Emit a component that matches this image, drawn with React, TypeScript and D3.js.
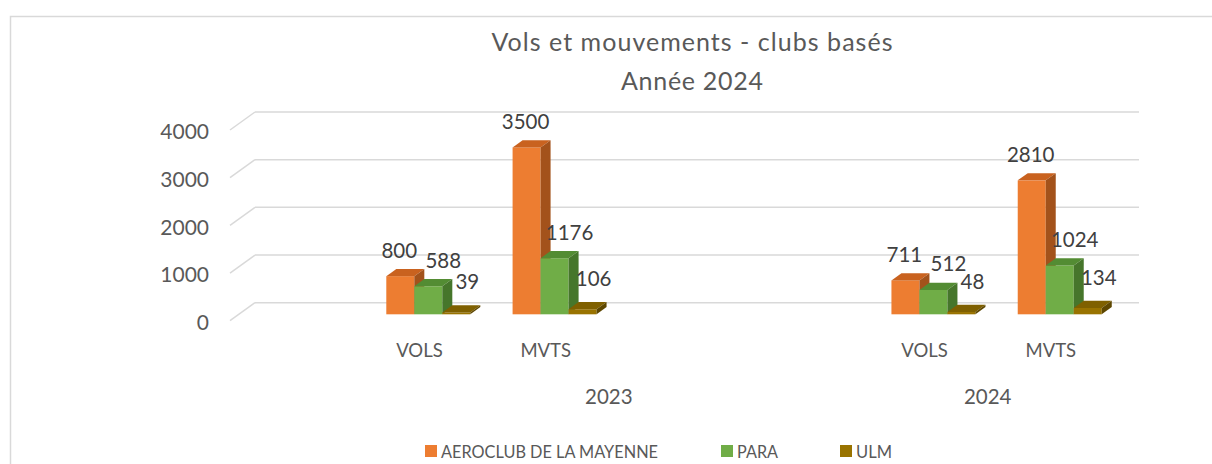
import React from "react";
import * as d3 from "d3";

// Excel-style multi-level categories (blank slots included, as in the source sheet)
const categoryLabels = ["", "VOLS", "MVTS", "", "", "VOLS", "MVTS"];
const yearLabels = ["2023", "2024"];
const yearSpans = [[1, 4], [5, 6]];
const seriesNames = ["AEROCLUB DE LA MAYENNE", "PARA", "ULM"];
const aeroclub = [null, 800, 3500, null, null, 711, 2810];
const para = [null, 588, 1176, null, null, 512, 1024];
const ulm = [null, 39, 106, null, null, 48, 134];
const yTicks = [0, 1000, 2000, 3000, 4000];

const seriesValues = [aeroclub, para, ulm];
const faceColors = [
  { front: "#ED7D31", top: "#C9621F", side: "#A3521B" },
  { front: "#70AD47", top: "#538C33", side: "#46762B" },
  { front: "#997300", top: "#7F6000", side: "#5E4700" },
];
const labelShift = [
  { dx: -1, dy: 18 },
  { dx: 15, dy: 18.5 },
  { dx: 11, dy: 23 },
];

const FONT = "Lato, 'Open Sans', sans-serif";
const TEXT = "#595959";
const GRID = "#D9D9D9";

export default function App() {
  const W = 1212;
  const H = 464;
  const floorDX = 25;
  const floorDY = -18;
  const barDepthF = 0.355;
  const barDX = 10;
  const barDY = -7.2;

  const x = d3.scaleBand<number>().domain(d3.range(categoryLabels.length)).range([230, 1114]).padding(0);
  const inner = d3.scaleBand<number>().domain(d3.range(seriesNames.length)).range([0, x.bandwidth()]).paddingInner(0).paddingOuter(0.755);
  const y = d3.scaleLinear().domain([0, 4000]).range([320.7, 130]);

  const offX = floorDX * barDepthF;
  const offY = floorDY * barDepthF;
  const bw = inner.bandwidth();

  const bars: JSX.Element[] = [];
  const labels: JSX.Element[] = [];
  categoryLabels.forEach((_, ci) => {
    seriesValues.forEach((vals, si) => {
      const v = vals[ci];
      if (v == null) return;
      const x0 = (x(ci) as number) + (inner(si) as number) + offX;
      const yb = y(0) + offY;
      const yt = y(v) + offY;
      const c = faceColors[si];
      const x1 = x0 + bw;
      bars.push(
        <g key={`b${ci}-${si}`}>
          <rect x={x0} y={yt} width={bw} height={yb - yt} fill={c.front} />
          <path d={`M${x0},${yt}L${x0 + barDX},${yt + barDY}L${x1 + barDX},${yt + barDY}L${x1},${yt}Z`} fill={c.top} />
          <path d={`M${x1},${yt}L${x1 + barDX},${yt + barDY}L${x1 + barDX},${yb + barDY}L${x1},${yb}Z`} fill={c.side} />
        </g>
      );
      labels.push(
        <text key={`l${ci}-${si}`} x={x0 + bw / 2 + labelShift[si].dx} y={yt - labelShift[si].dy}
          textAnchor="middle" fontSize={20.5} fill="#404040" fontFamily={FONT}>{v}</text>
      );
    });
  });

  const backX0 = 230 + floorDX;
  const backX1 = 1114 + floorDX;

  const legendItems = [
    { x: 425, tx: 441, len: 217 },
    { x: 721, tx: 737, len: 41 },
    { x: 840, tx: 856, len: 36 },
  ];

  return (
    <svg width={W} height={H} style={{ position: "absolute", left: 0, top: 0, background: "#fff" }}>
      <rect x={10.5} y={16.5} width={1400} height={600} fill="#fff" stroke={GRID} strokeWidth={1.5} />
      <text x={692} y={51} textAnchor="middle" fontSize={25} fill={TEXT} fontFamily={FONT} textLength={401} lengthAdjust="spacing">Vols et mouvements - clubs basés</text>
      <text x={692} y={90} textAnchor="middle" fontSize={25} fill={TEXT} fontFamily={FONT} textLength={142} lengthAdjust="spacing">Année 2024</text>

      {yTicks.map((t) => (
        <g key={`g${t}`}>
          <line x1={backX0} x2={backX1} y1={y(t) + floorDY} y2={y(t) + floorDY} stroke={GRID} strokeWidth={1.5} />
          <line x1={230} x2={backX0} y1={y(t)} y2={y(t) + floorDY} stroke={GRID} strokeWidth={1.5} />
          <text x={209} y={y(t) + 2} dy="0.35em" textAnchor="end" fontSize={21} fill={TEXT} fontFamily={FONT}>{t}</text>
        </g>
      ))}

      {bars}
      {labels}

      {categoryLabels.map((c, i) => c ? (
        <text key={`c${i}`} x={(x(i) as number) + x.bandwidth() / 2} y={357} textAnchor="middle" fontSize={18.5} fill={TEXT} fontFamily={FONT}>{c}</text>
      ) : null)}
      {yearLabels.map((yl, i) => {
        const [a, b] = yearSpans[i];
        const cx = ((x(a) as number) + (x(b) as number) + x.bandwidth()) / 2;
        return <text key={`y${i}`} x={cx} y={404} textAnchor="middle" fontSize={20.5} fill={TEXT} fontFamily={FONT}>{yl}</text>;
      })}

      {seriesNames.map((s, i) => (
        <g key={`lg${i}`}>
          <rect x={legendItems[i].x} y={445} width={12} height={12} fill={faceColors[i].front} />
          <text x={legendItems[i].tx} y={457.5} fontSize={17.5} fill={TEXT} fontFamily={FONT} textLength={legendItems[i].len} lengthAdjust="spacingAndGlyphs">{s}</text>
        </g>
      ))}
    </svg>
  );
}
